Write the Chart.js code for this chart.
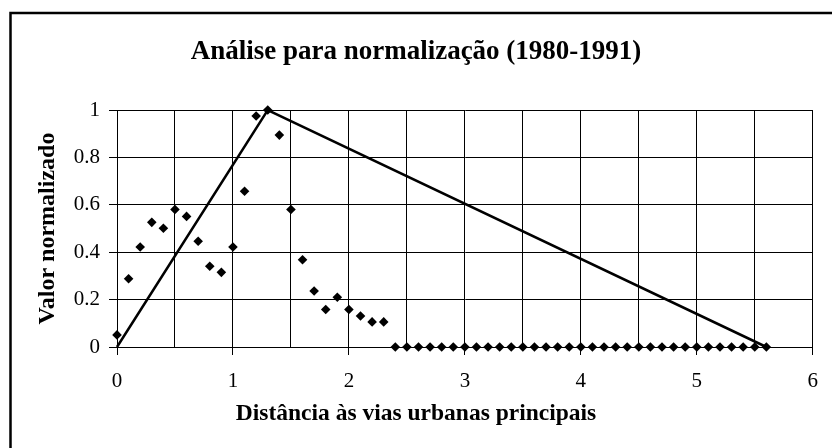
<!DOCTYPE html>
<html>
<head>
<meta charset="utf-8">
<script src="https://cdn.jsdelivr.net/npm/chart.js@4"></script>
<style>
  html, body { margin: 0; padding: 0; background: #fff; }
  canvas { display: block; }
</style>
</head>
<body>
<canvas id="c" width="832" height="448"></canvas>
<script>
const chartTitle = 'Análise para normalização (1980-1991)';
const xAxisTitle = 'Distância às vias urbanas principais';
const yAxisTitle = 'Valor normalizado';

const pointX = [0,0.1,0.2,0.3,0.4,0.5,0.6,0.7,0.8,0.9,1,1.1,1.2,1.3,1.4,1.5,1.6,1.7,1.8,1.9,2,2.1,2.2,2.3,2.4,2.5,2.6,2.7,2.8,2.9,3,3.1,3.2,3.3,3.4,3.5,3.6,3.7,3.8,3.9,4,4.1,4.2,4.3,4.4,4.5,4.6,4.7,4.8,4.9,5,5.1,5.2,5.3,5.4,5.5,5.6];
const pointY = [0.051,0.288,0.422,0.526,0.501,0.580,0.551,0.446,0.341,0.315,0.422,0.657,0.975,1.0,0.894,0.580,0.368,0.236,0.158,0.210,0.158,0.131,0.106,0.106,
                0,0,0,0,0,0,0,0,0,0,0,0,0,0,0,0,0,0,0,0,0,0,0,0,0,0,0,0,0,0,0,0,0];

const lineX = [0, 1.3, 5.6];
const lineY = [0, 1, 0];

const xTickLabels = ['0','1','2','3','4','5','6'];
const yTickLabels = ['0','0.2','0.4','0.6','0.8','1'];

const serif = "'Liberation Serif', 'Times New Roman', serif";

const frame = {
  id: 'frame',
  afterDraw(chart) {
    const ctx = chart.ctx;
    ctx.save();
    ctx.strokeStyle = '#000';
    ctx.lineWidth = 2.5;
    ctx.strokeRect(10.5, 13, 900, 500);
    ctx.restore();
  }
};

new Chart(document.getElementById('c'), {
  type: 'scatter',
  data: {
    datasets: [
      {
        data: pointX.map((x, i) => ({x: x, y: pointY[i]})),
        showLine: false,
        pointStyle: 'rectRot',
        pointRadius: 4.8,
        pointBackgroundColor: '#000',
        pointBorderWidth: 0,
        clip: false
      },
      {
        data: lineX.map((x, i) => ({x: x, y: lineY[i]})),
        showLine: true,
        borderColor: '#000',
        borderWidth: 2.5,
        pointRadius: 0,
        clip: false
      }
    ]
  },
  options: {
    responsive: false,
    animation: false,
    devicePixelRatio: 1,
    layout: { padding: { left: 7, right: 7, top: 0, bottom: 0 } },
    plugins: {
      legend: { display: false },
      tooltip: { enabled: false },
      title: {
        display: true,
        text: chartTitle,
        color: '#000',
        font: { family: serif, size: 27, weight: 'bold' },
        padding: { top: 36, bottom: 41.6 }
      },
      subtitle: {
        display: true,
        position: 'bottom',
        text: xAxisTitle,
        color: '#000',
        font: { family: serif, size: 23.5, weight: 'bold' },
        padding: { top: 4, bottom: 20 }
      }
    },
    scales: {
      x: {
        type: 'linear',
        min: 0, max: 6,
        afterFit(scale) { scale.height = 48.8; },
        ticks: {
          stepSize: 0.5,
          autoSkip: false,
          maxRotation: 0,
          padding: 14,
          color: '#000',
          font: { family: serif, size: 21 },
          callback: (v) => (v % 1 === 0 ? xTickLabels[v] : '')
        },
        grid: {
          color: '#000',
          lineWidth: 1,
          tickLength: 8,
          tickColor: (ctx) => (ctx.tick && ctx.tick.value % 1 === 0 ? '#000' : 'rgba(0,0,0,0)')
        },
        border: { color: '#000', width: 1 },
        title: { display: false }
      },
      y: {
        type: 'linear',
        min: 0, max: 1,
        afterFit(scale) { scale.width = 110; },
        ticks: {
          stepSize: 0.2,
          padding: 9,
          color: '#000',
          font: { family: serif, size: 21 },
          callback: (v, i) => yTickLabels[i]
        },
        grid: { color: '#000', lineWidth: 1, tickLength: 8, tickColor: '#000' },
        border: { color: '#000', width: 1 },
        title: {
          display: true,
          text: yAxisTitle,
          color: '#000',
          font: { family: serif, size: 24, weight: 'bold' },
          padding: { top: 26.5, bottom: 6 }
        }
      }
    }
  },
  plugins: [frame]
});
</script>
</body>
</html>
